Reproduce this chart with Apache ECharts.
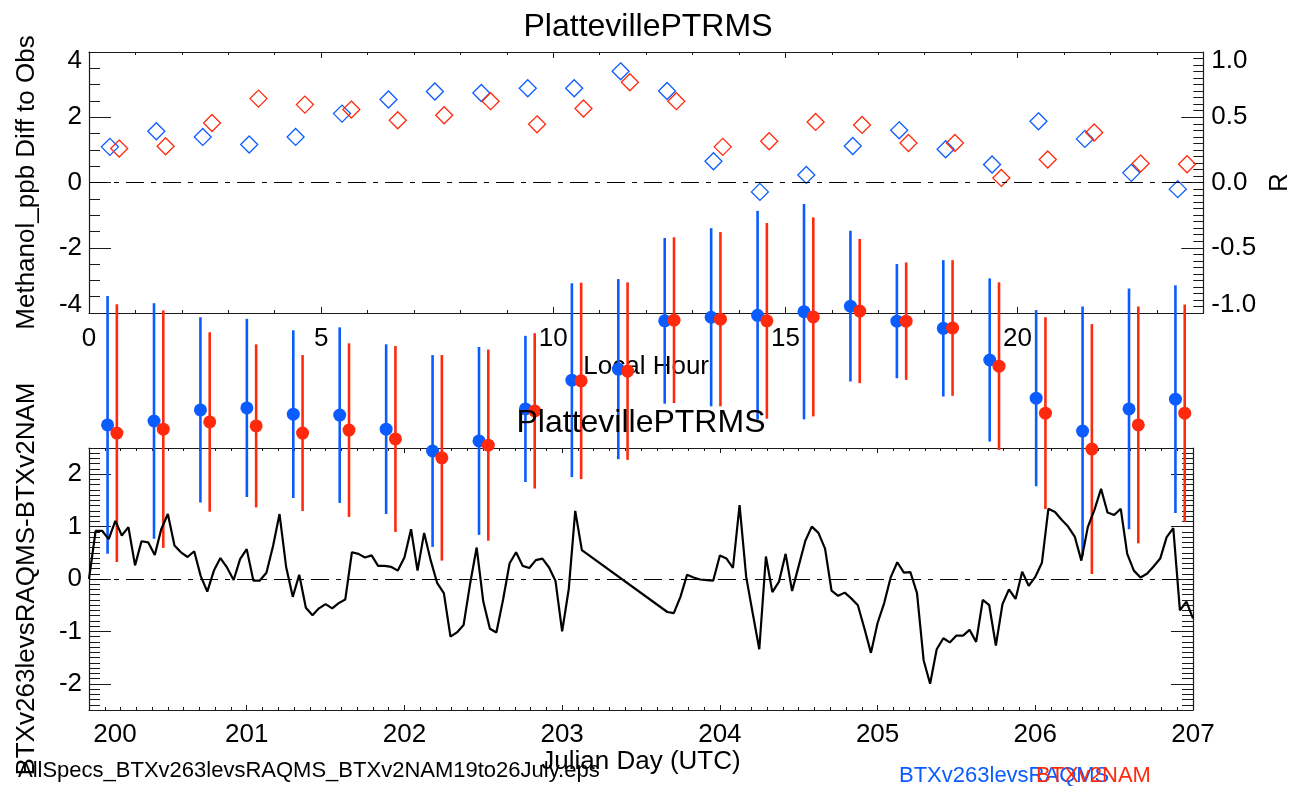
<!DOCTYPE html>
<html><head><meta charset="utf-8">
<script src="https://cdn.jsdelivr.net/npm/echarts@6/dist/echarts.min.js"></script>
<style>html,body{margin:0;padding:0;background:#fff}#c{width:1301px;height:786px}</style>
</head><body><div id="c"></div>
<script>
// ---------- data ----------
const localHour = [0,1,2,3,4,5,6,7,8,9,10,11,12,13,14,15,16,17,18,19,20,21,22,23];
const blueBias = [-7.43,-7.31,-6.97,-6.91,-7.10,-7.13,-7.56,-8.23,-7.92,-6.94,-6.06,-5.72,-4.24,-4.13,-4.07,-3.96,-3.79,-4.25,-4.47,-5.44,-6.61,-7.62,-6.94,-6.64];
const blueSd   = [3.95,3.61,2.84,2.73,2.57,2.69,2.60,2.94,2.88,2.24,2.97,2.76,2.54,2.73,3.20,3.30,2.31,1.75,2.09,2.50,2.70,3.82,3.69,3.49];
const redBias  = [-7.68,-7.56,-7.34,-7.46,-7.68,-7.59,-7.86,-8.44,-8.05,-7.00,-6.08,-5.78,-4.22,-4.19,-4.24,-4.12,-3.94,-4.25,-4.46,-5.63,-7.07,-8.17,-7.43,-7.07];
const redSd    = [3.95,3.64,2.75,2.50,2.39,2.66,2.85,3.15,2.93,2.38,3.01,2.72,2.54,2.67,3.00,3.05,2.21,1.80,2.08,2.57,2.94,3.83,3.63,3.33];
const blueR = [0.273,0.393,0.349,0.291,0.349,0.528,0.636,0.697,0.686,0.722,0.722,0.852,0.701,0.163,-0.072,0.058,0.280,0.400,0.255,0.138,0.469,0.334,0.074,-0.051];
const redR  = [0.260,0.278,0.456,0.643,0.597,0.559,0.477,0.515,0.623,0.446,0.567,0.768,0.623,0.273,0.316,0.464,0.441,0.303,0.303,0.035,0.176,0.383,0.145,0.140];

const julianDay = [
 200.000,200.042,200.083,200.125,200.167,200.208,200.250,200.292,200.333,200.375,200.417,200.458,200.500,200.542,200.583,200.625,200.667,200.708,200.750,200.792,200.833,200.875,200.917,200.958,
 201.000,201.042,201.083,201.125,201.167,201.208,201.250,201.292,201.333,201.375,201.417,201.458,201.500,201.542,201.583,201.625,201.667,201.708,201.750,201.792,201.833,201.875,201.917,201.958,
 202.000,202.042,202.083,202.125,202.167,202.208,202.250,202.292,202.333,202.375,202.417,202.458,202.500,202.542,202.583,202.625,202.667,202.708,202.750,202.792,202.833,202.875,202.917,202.958,
 203.000,203.042,203.083,203.125,203.667,203.708,203.750,203.792,203.833,203.875,203.917,203.958,
 204.000,204.042,204.083,204.125,204.167,204.208,204.250,204.292,204.333,204.375,204.417,204.458,204.500,204.542,204.583,204.625,204.667,204.708,204.750,204.792,204.833,204.875,204.917,204.958,
 205.000,205.042,205.083,205.125,205.167,205.208,205.250,205.292,205.333,205.375,205.417,205.458,205.500,205.542,205.583,205.625,205.667,205.708,205.750,205.792,205.833,205.875,205.917,205.958,
 206.000,206.042,206.083,206.125,206.167,206.208,206.250,206.292,206.333,206.375,206.417,206.458,206.500,206.542,206.583,206.625,206.667,206.708,206.750,206.792,206.833,206.875,206.917,206.958,
 207.000];
const btxDiff = [
 0.00,0.92,0.92,0.76,1.11,0.83,0.99,0.26,0.72,0.70,0.46,0.95,1.24,0.64,0.51,0.42,0.53,0.06,-0.24,0.16,0.40,0.22,-0.02,0.38,
 0.57,-0.03,-0.03,0.12,0.63,1.24,0.23,-0.34,0.08,-0.55,-0.69,-0.56,-0.48,-0.56,-0.46,-0.39,0.51,0.48,0.41,0.45,0.25,0.25,0.23,0.16,
 0.41,0.95,0.16,0.88,0.35,-0.08,-0.27,-1.10,-1.02,-0.88,-0.08,0.60,-0.43,-0.95,-1.02,-0.40,0.30,0.51,0.25,0.21,0.36,0.39,0.22,-0.04,
 -1.00,-0.19,1.30,0.55,-0.63,-0.65,-0.34,0.08,0.03,-0.01,-0.02,-0.03,
 0.45,0.39,0.21,1.41,0.04,-0.65,-1.34,0.43,-0.25,-0.05,0.48,-0.23,0.25,0.73,1.00,0.88,0.58,-0.22,-0.32,-0.26,-0.37,-0.50,-0.95,-1.41,
 -0.84,-0.46,0.03,0.32,0.12,0.13,-0.27,-1.55,-2.00,-1.34,-1.13,-1.21,-1.08,-1.08,-0.97,-1.20,-0.40,-0.50,-1.27,-0.48,-0.20,-0.38,0.14,-0.13,
 0.04,0.31,1.34,1.28,1.13,1.00,0.81,0.35,0.99,1.32,1.72,1.27,1.22,1.34,0.48,0.16,0.03,0.10,0.24,0.39,0.80,0.97,-0.60,-0.43,
 -0.75];

const hourTickLabels = [0,5,10,15,20];
const biasTickLabels = [-4,-2,0,2,4];
const rTickLabels = [-1.0,-0.5,0.0,0.5,1.0];
const dayTickLabels = [200,201,202,203,204,205,206,207];
const diffTickLabels = [-2,-1,0,1,2];

const titleText = 'PlattevillePTRMS';
const footerText = 'AllSpecs_BTXv263levsRAQMS_BTXv2NAM19to26July.eps';
const modelNames = ['BTXv263levsRAQMS','BTXv2NAM'];

// ---------- style ----------
const FONT = '"Liberation Sans", Arial, Helvetica, sans-serif';
const BLUE = '#0b5cff', RED = '#ff2a0e';
const AX = '#1a1a1a';
const FS = 26;
const txt = (o) => Object.assign({fontSize: FS, fontFamily: FONT, color: '#000'}, o || {});
const DASHDOT = [18, 7, 5, 7];

function base(o) {
  return Object.assign({
    type: 'value', splitLine: {show: false},
    axisLine: {show: false, onZero: false},
    axisTick: {show: false}, axisLabel: {show: false}
  }, o);
}
function lineOn() { return {show: true, onZero: false, lineStyle: {color: AX, width: 1.2}}; }
function tick(len) { return {show: true, inside: true, length: len, lineStyle: {color: AX, width: 1}}; }

const xAxes = [
  // grid 0 (local hour)
  base({gridIndex: 0, position: 'bottom', min: 0, max: 24, interval: 5, axisLine: lineOn(), axisTick: tick(6),
        axisLabel: Object.assign(txt(), {show: true, margin: 13, showMinLabel: true, showMaxLabel: true,
          formatter: v => hourTickLabels.indexOf(v) >= 0 ? String(v) : ''}),
        name: 'Local Hour', nameLocation: 'middle', nameGap: 41, nameTextStyle: txt()}),
  base({gridIndex: 0, position: 'bottom', min: 0, max: 24, interval: 1, axisTick: tick(3)}),
  base({gridIndex: 0, position: 'top', min: 0, max: 24, interval: 5, axisLine: lineOn(), axisTick: tick(6)}),
  base({gridIndex: 0, position: 'top', min: 0, max: 24, interval: 1, axisTick: tick(3)}),
  // grid 1 (julian day)
  base({gridIndex: 1, position: 'bottom', min: 200, max: 207, interval: 1, axisLine: lineOn(), axisTick: tick(5),
        axisLabel: Object.assign(txt(), {show: true, margin: 12, showMinLabel: true, showMaxLabel: true,
          formatter: v => (v === dayTickLabels[0] ? '{first|' + v + '}' : (dayTickLabels.indexOf(v) >= 0 ? String(v) : '')),
          rich: {first: txt({padding: [0, 0, 0, 52]})}}),
        name: 'Julian Day (UTC)', nameLocation: 'middle', nameGap: 39, nameTextStyle: txt()}),
  base({gridIndex: 1, position: 'bottom', min: 200, max: 207, interval: 0.1, axisTick: tick(3)}),
  base({gridIndex: 1, position: 'top', min: 200, max: 207, interval: 1, axisLine: lineOn(), axisTick: tick(5)}),
  base({gridIndex: 1, position: 'top', min: 200, max: 207, interval: 0.1, axisTick: tick(3)})
];

const yAxes = [
  // grid 0 left: bias
  base({gridIndex: 0, position: 'left', min: -4, max: 4, interval: 2, axisLine: lineOn(), axisTick: tick(22),
        axisLabel: Object.assign(txt(), {show: true, margin: 7, showMinLabel: true, showMaxLabel: true,
          formatter: v => v === biasTickLabels[4] ? '{hi|' + v + '}' : (v === biasTickLabels[0] ? '{lo|' + v + '}' : String(v)),
          rich: {hi: txt({padding: [17, 0, 0, 0]}), lo: txt({padding: [0, 0, 17, 0]})}}),
        name: 'Methanol_ppb Diff to Obs', nameLocation: 'middle', nameGap: 49, nameTextStyle: txt()}),
  base({gridIndex: 0, position: 'left', min: -4, max: 4, interval: 0.5, axisTick: tick(11)}),
  // grid 0 right: R
  base({gridIndex: 0, position: 'right', min: -1, max: 1, interval: 0.5, axisLine: lineOn(), axisTick: tick(22),
        axisLabel: Object.assign(txt(), {show: true, margin: 8, showMinLabel: true, showMaxLabel: true,
          formatter: v => { const s = v.toFixed(1); return v === rTickLabels[4] ? '{hi|' + s + '}' : (v === rTickLabels[0] ? '{lo|' + s + '}' : s); },
          rich: {hi: txt({padding: [17, 0, 0, 0]}), lo: txt({padding: [0, 0, 17, 0]})}}),
        name: 'R', nameLocation: 'middle', nameGap: 56, nameTextStyle: txt()}),
  base({gridIndex: 0, position: 'right', min: -1, max: 1, interval: 0.05, axisTick: tick(10)}),
  // grid 1 left: difference
  base({gridIndex: 1, position: 'left', min: -2.5, max: 2.5, splitNumber: 5, axisLine: lineOn(), axisTick: tick(22),
        axisLabel: Object.assign(txt(), {show: true, margin: 7, showMinLabel: true, showMaxLabel: true,
          formatter: v => diffTickLabels.indexOf(v) >= 0 ? String(v) : ''}),
        name: 'BTXv263levsRAQMS-BTXv2NAM', nameLocation: 'middle', nameGap: 49, nameTextStyle: txt()}),
  base({gridIndex: 1, position: 'left', min: -2.5, max: 2.5, interval: 0.1, axisTick: tick(11)}),
  base({gridIndex: 1, position: 'right', min: -2.5, max: 2.5, splitNumber: 5, axisLine: lineOn(), axisTick: tick(22)}),
  base({gridIndex: 1, position: 'right', min: -2.5, max: 2.5, interval: 0.1, axisTick: tick(11)})
];

const BAR_OFF = [0.4, 0.6], DIA_OFF = [0.45, 0.65];

function errSeries(bias, sd, off, color) {
  return {
    type: 'custom', xAxisIndex: 0, yAxisIndex: 0, clip: false, z: 3, silent: true,
    data: localHour.map((h, i) => [h + off, bias[i] - sd[i], bias[i] + sd[i]]),
    encode: {x: 0, y: [1, 2]},
    renderItem: (params, api) => {
      const a = api.coord([api.value(0), api.value(1)]);
      const b = api.coord([api.value(0), api.value(2)]);
      return {type: 'line', shape: {x1: a[0], y1: a[1], x2: b[0], y2: b[1]}, style: {stroke: color, lineWidth: 2.6}};
    }
  };
}
function dotSeries(bias, off, color) {
  return {type: 'scatter', xAxisIndex: 0, yAxisIndex: 0, clip: false, z: 4, silent: true,
    symbol: 'circle', symbolSize: 13, itemStyle: {color: color, opacity: 1},
    data: localHour.map((h, i) => [h + off, bias[i]])};
}
function diaSeries(r, off, color) {
  return {type: 'scatter', xAxisIndex: 0, yAxisIndex: 2, clip: false, z: 4, silent: true,
    symbol: 'diamond', symbolSize: [17, 17], itemStyle: {color: 'rgba(0,0,0,0)', borderColor: color, borderWidth: 1.3, opacity: 1},
    data: localHour.map((h, i) => [h + off, r[i]])};
}
function zeroLine() {
  return {silent: true, symbol: ['none', 'none'], label: {show: false}, animation: false,
    lineStyle: {color: '#000', width: 1.2, type: DASHDOT}, data: [{yAxis: 0}]};
}

const series = [
  Object.assign(diaSeries(blueR, DIA_OFF[0], BLUE), {}),
  diaSeries(redR, DIA_OFF[1], RED),
  {type: 'line', xAxisIndex: 0, yAxisIndex: 0, data: [], markLine: zeroLine(), silent: true},
  errSeries(blueBias, blueSd, BAR_OFF[0], BLUE),
  errSeries(redBias, redSd, BAR_OFF[1], RED),
  dotSeries(blueBias, BAR_OFF[0], BLUE),
  dotSeries(redBias, BAR_OFF[1], RED),
  {type: 'line', xAxisIndex: 4, yAxisIndex: 4, z: 6, silent: true, showSymbol: false, symbol: 'none',
   lineStyle: {color: '#000', width: 2.2}, itemStyle: {color: '#000'},
   data: julianDay.map((d, i) => [d, btxDiff[i]]),
   markLine: zeroLine()}
];

const gtext = (text, x, y, size, color, align) => ({
  type: 'text', x: x, y: y, z: 100, silent: true,
  style: {text: text, fill: color, font: size + 'px ' + FONT, fontSize: size, fontFamily: FONT,
          align: align, verticalAlign: 'middle', textAlign: align, textVerticalAlign: 'middle'}
});

const option = {
  animation: false,
  backgroundColor: '#ffffff',
  grid: [
    {left: 89, top: 52, width: 1118, height: 261, containLabel: false},
    {left: 89, top: 448, width: 1104, height: 262, containLabel: false}
  ],
  xAxis: xAxes,
  yAxis: yAxes,
  series: series,
  graphic: [
    gtext(titleText, 648, 27, 32, '#000', 'center'),
    gtext(titleText, 641, 423, 32, '#000', 'center'),
    gtext(footerText, 18, 771, 22, '#000', 'left'),
    gtext(modelNames[0], 899, 776, 22, BLUE, 'left'),
    gtext(modelNames[1], 1036, 776, 22, RED, 'left')
  ]
};

const chart = echarts.init(document.getElementById('c'), null, {renderer: 'canvas'});
chart.setOption(option);
</script>
</body></html>
